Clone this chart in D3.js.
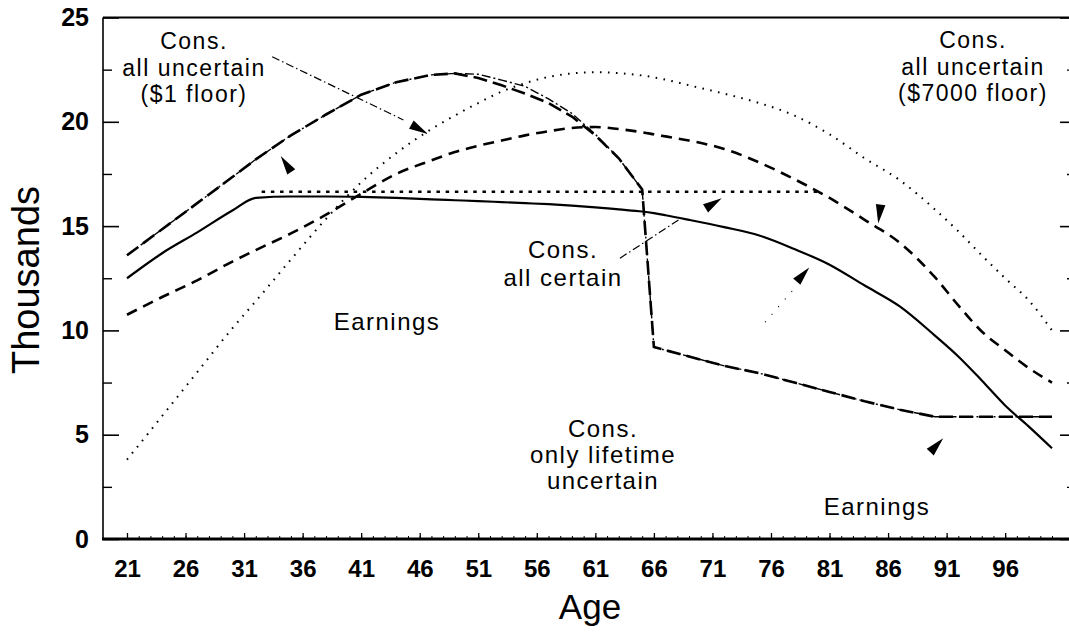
<!DOCTYPE html>
<html>
<head>
<meta charset="utf-8">
<script src="https://cdn.jsdelivr.net/npm/d3@7"></script>
<style>
  html, body { margin: 0; padding: 0; background: #fff; }
  svg { display: block; font-family: "Liberation Sans", Arial, Helvetica, sans-serif; }
</style>
</head>
<body>
<div id="chart"></div>
<script>
const ages = [21, 24, 27, 30, 32, 35, 38, 41, 44, 47, 49, 51, 53, 55, 57, 59, 61, 63, 65,
  66, 67, 69, 72, 75, 78, 81, 84, 87, 90, 92, 94, 96, 98, 100];

// solid line
const solidProfile = [12.5, 13.7, 14.7, 15.75, 16.35, 16.42, 16.42, 16.4, 16.35, 16.28, 16.24,
  16.2, 16.15, 16.1, 16.05, 15.98, 15.9, 15.8, 15.7, 15.62, 15.52, 15.3, 14.95, 14.55, 13.9,
  13.15, 12.15, 11.15, 9.75, 8.75, 7.6, 6.4, 5.4, 4.35];
// dashed line ($7000 floor)
const dashedProfile = [10.75, 11.6, 12.4, 13.3, 13.85, 14.65, 15.55, 16.55, 17.5, 18.15, 18.55,
  18.85, 19.1, 19.35, 19.55, 19.7, 19.75, 19.65, 19.5, 19.4, 19.3, 19.1, 18.7, 18.05, 17.25,
  16.35, 15.3, 14.2, 12.55, 11.2, 9.95, 9.05, 8.2, 7.5];
// dotted hump
const dottedProfile = [3.8, 5.9, 8.0, 10.1, 11.4, 13.4, 15.35, 17.1, 18.5, 19.65, 20.3, 20.9,
  21.45, 21.85, 22.15, 22.32, 22.38, 22.33, 22.22, 22.13, 22.02, 21.75, 21.35, 20.9, 20.3,
  19.4, 18.25, 17.2, 15.8, 14.75, 13.6, 12.5, 11.45, 10.0];
// long dash line with the drop at 65
const longDashProfile = [13.6, 14.85, 16.1, 17.35, 18.2, 19.35, 20.35, 21.3, 21.9, 22.25, 22.32,
  22.1, 21.75, 21.35, 20.9, 20.25, 19.35, 18.25, 16.75, 9.2, 9.05, 8.75, 8.3, 7.95, 7.5, 7.05,
  6.6, 6.2, 5.86, 5.86, 5.86, 5.86, 5.86, 5.86];
// dash-dot line, almost on top of the long dash one
const dashDotProfile = [13.6, 14.85, 16.1, 17.35, 18.2, 19.35, 20.35, 21.3, 21.9, 22.25, 22.32,
  22.28, 22.0, 21.7, 21.1, 20.4, 19.4, 18.25, 16.75, 9.2, 9.05, 8.75, 8.3, 7.95, 7.5, 7.05,
  6.6, 6.2, 5.86, 5.86, 5.86, 5.86, 5.86, 5.86];
// flat dotted line (Cons. all certain)
const certainAges = [32.5, 80.2];
const certainCons = [16.65, 16.65];

const xTickLabels = [21, 26, 31, 36, 41, 46, 51, 56, 61, 66, 71, 76, 81, 86, 91, 96];
const yTickLabels = [0, 5, 10, 15, 20, 25];
const yMinorTicks = [2.5, 7.5, 12.5, 17.5, 22.5];

const labelAllUncertain1 = ['Cons.', 'all uncertain', '($1 floor)'];
const labelAllUncertain7000 = ['Cons.', 'all uncertain', '($7000 floor)'];
const labelAllCertain = ['Cons.', 'all certain'];
const labelLifetime = ['Cons.', 'only lifetime', 'uncertain'];
const labelEarnings = 'Earnings';

const width = 1069;
const height = 633;

const svg = d3.select('#chart')
  .append('svg')
  .attr('width', width)
  .attr('height', height);

const x = d3.scaleLinear().domain([21, 100]).range([127, 1052]);
const y = d3.scaleLinear().domain([0, 25]).range([539, 17.5]);

const frameLeft = 103;
const frameRight = 1076;

// frame
svg.append('line')
  .attr('x1', frameLeft).attr('x2', frameRight)
  .attr('y1', y(25)).attr('y2', y(25))
  .attr('stroke', '#000').attr('stroke-width', 2);
svg.append('line')
  .attr('x1', frameLeft).attr('x2', frameLeft)
  .attr('y1', y(25)).attr('y2', y(0))
  .attr('stroke', '#000').attr('stroke-width', 1.6);
svg.append('line')
  .attr('x1', frameLeft - 1).attr('x2', frameRight)
  .attr('y1', y(0)).attr('y2', y(0))
  .attr('stroke', '#000').attr('stroke-width', 3);

// y axis, ticks pointing in
const yAxis = svg.append('g')
  .attr('transform', `translate(${frameLeft},0)`)
  .call(d3.axisLeft(y).tickValues(yTickLabels).tickSize(-16).tickSizeOuter(0).tickPadding(14));
yAxis.select('.domain').remove();
yAxis.selectAll('line').attr('stroke-width', 1.6);
yAxis.selectAll('text')
  .style('font-size', '25px')
  .style('font-weight', 'bold')
  .attr('fill', '#000');

svg.append('g')
  .attr('transform', `translate(${frameLeft},0)`)
  .call(d3.axisLeft(y).tickValues(yMinorTicks).tickSize(-9).tickFormat(''))
  .call((g) => g.select('.domain').remove())
  .selectAll('line').attr('stroke-width', 1.4);

// right side ticks
svg.append('g')
  .attr('transform', `translate(${frameRight},0)`)
  .call(d3.axisRight(y).tickValues(yTickLabels).tickSize(-16).tickFormat(''))
  .call((g) => g.select('.domain').remove())
  .selectAll('line').attr('stroke-width', 1.6);
svg.append('g')
  .attr('transform', `translate(${frameRight},0)`)
  .call(d3.axisRight(y).tickValues(yMinorTicks).tickSize(-9).tickFormat(''))
  .call((g) => g.select('.domain').remove())
  .selectAll('line').attr('stroke-width', 1.4);

// x axis
const xAxis = svg.append('g')
  .attr('transform', `translate(0,${y(0)})`)
  .call(d3.axisBottom(x).tickValues(xTickLabels).tickSize(-6).tickSizeOuter(0).tickPadding(21));
xAxis.select('.domain').remove();
xAxis.selectAll('line').attr('stroke-width', 1.3);
xAxis.selectAll('text')
  .style('font-size', '24px')
  .style('font-weight', 'bold')
  .attr('fill', '#000');

svg.append('g')
  .attr('transform', `translate(0,${y(0)})`)
  .call(d3.axisBottom(x).tickValues(d3.range(21, 101)).tickSize(-3).tickFormat(''))
  .call((g) => g.select('.domain').remove())
  .selectAll('line').attr('stroke-width', 1);

// axis titles
svg.append('text')
  .attr('transform', 'translate(39,280) rotate(-90)')
  .attr('text-anchor', 'middle')
  .style('font-size', '38px')
  .text('Thousands');
svg.append('text')
  .attr('x', 590).attr('y', 619)
  .attr('text-anchor', 'middle')
  .style('font-size', '35px')
  .text('Age');

// profiles
const smooth = d3.line()
  .x((d, i) => x(ages[i]))
  .y((d) => y(d))
  .curve(d3.curveMonotoneX);
const straight = d3.line()
  .x((d, i) => x(ages[i]))
  .y((d) => y(d));

const plot = svg.append('g').attr('fill', 'none').attr('stroke', '#000');

plot.append('path').datum(dottedProfile)
  .attr('d', smooth)
  .attr('stroke-width', 2)
  .attr('stroke-dasharray', '1.6,6.4');

plot.append('path').datum(dashedProfile)
  .attr('d', smooth)
  .attr('stroke-width', 2.6)
  .attr('stroke-dasharray', '11,7');

plot.append('path').datum(solidProfile)
  .attr('d', smooth)
  .attr('stroke-width', 2.2);

plot.append('path').datum(longDashProfile)
  .attr('d', straight)
  .attr('stroke-width', 2.6)
  .attr('stroke-dasharray', '14,6');

plot.append('path').datum(dashDotProfile)
  .attr('d', straight)
  .attr('stroke-width', 1.4)
  .attr('stroke-dasharray', '9,3,2,3');

plot.append('path').datum(certainCons)
  .attr('d', d3.line().x((d, i) => x(certainAges[i])).y((d) => y(d)))
  .attr('stroke-width', 2.4)
  .attr('stroke-dasharray', '3.5,5.7');

// leader lines and arrowheads (in data units)
const leaders = [
  { from: [33.4, 23.12], to: [44.6, 20.09], dash: '8,3,1.5,3', w: 1.2 },
  { from: [63.1, 13.46], to: [68.1, 15.29], dash: '8,3,1.5,3', w: 1.2 },
  { from: [75.5, 10.4], to: [77.9, 11.94], dash: '1,9', w: 1.2 },
];
plot.selectAll('line.leader')
  .data(leaders)
  .enter()
  .append('line')
  .attr('x1', (d) => x(d.from[0])).attr('y1', (d) => y(d.from[1]))
  .attr('x2', (d) => x(d.to[0])).attr('y2', (d) => y(d.to[1]))
  .attr('stroke-width', (d) => d.w)
  .attr('stroke-dasharray', (d) => d.dash);

const arrows = [
  { age: 34.13, value: 18.36, angle: -123.7 },
  { age: 46.7, value: 19.42, angle: 29.2 },
  { age: 71.79, value: 16.33, angle: -31.9 },
  { age: 79.27, value: 13.02, angle: -48.8 },
  { age: 85.16, value: 15.13, angle: 97.3 },
  { age: 90.71, value: 4.83, angle: -46.9 },
];
svg.append('g')
  .selectAll('path')
  .data(arrows)
  .enter()
  .append('path')
  .attr('d', 'M0,0L-19,-4.8L-19,4.8Z')
  .attr('fill', '#000')
  .attr('transform', (d) => `translate(${x(d.age)},${y(d.value)}) rotate(${d.angle})`);

// text labels, one line per text element
function addLabel(lines, cx, top, gap, size) {
  const g = svg.append('g')
    .attr('text-anchor', 'middle')
    .style('font-size', size + 'px')
    .style('letter-spacing', '1.5px');
  lines.forEach((s, i) => {
    g.append('text')
      .attr('x', cx)
      .attr('y', top + i * gap)
      .text(s);
  });
}
addLabel(labelAllUncertain1, 194, 49, 26.5, 23);
addLabel(labelAllUncertain7000, 973, 48, 26.5, 23);
addLabel(labelAllCertain, 563, 258, 28, 24);
addLabel(labelLifetime, 603, 437, 26, 24);
addLabel([labelEarnings], 387, 330, 0, 24);
addLabel([labelEarnings], 877, 515, 0, 24);
</script>
</body>
</html>
